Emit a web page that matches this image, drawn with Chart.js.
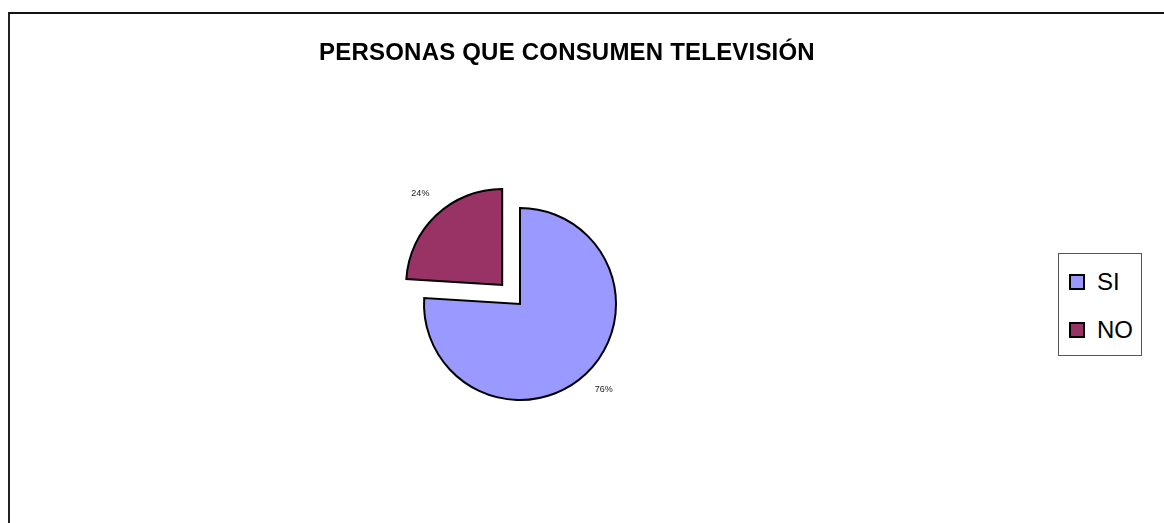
<!DOCTYPE html>
<html lang="es">
<head>
  <meta charset="UTF-8" />
  <title>Personas que consumen televisión</title>
  <script src="https://cdn.jsdelivr.net/npm/chart.js"></script>
  <style>
    html, body {
      margin: 0;
      width: 1164px;
      height: 523px;
      overflow: hidden;
      background: #fff;
      font-family: 'Liberation Sans', Arial, sans-serif;
    }

    .frame {
      position: absolute;
      left: 8px;
      top: 12px;
      width: 1200px;
      height: 600px;
      border-left: 2px solid #222;
      border-top: 2px solid #111;
    }

    .titulo {
      position: absolute;
      left: 0;
      top: 38px;
      width: 1134px;
      margin: 0;
      text-align: center;
      font-size: 24px;
      font-weight: bold;
      color: #000;
      letter-spacing: 0.2px;
    }

    #wrap {
      position: absolute;
      left: 0;
      top: 0;
      width: 1164px;
      height: 523px;
    }

    .legend {
      position: absolute;
      left: 1058px;
      top: 253px;
      width: 82px;
      height: 101px;
      border: 1px solid #555;
      background: #fff;
    }

    .legend-item {
      position: absolute;
      left: 10px;
      display: flex;
      align-items: center;
      font-size: 24px;
      color: #000;
    }

    .swatch {
      width: 12px;
      height: 12px;
      border: 2px solid #000;
      margin-right: 12px;
    }
  </style>
</head>
<body>
  <div class="frame"></div>
  <div id="wrap"><canvas id="tvChart"></canvas></div>
  <h1 class="titulo">PERSONAS QUE CONSUMEN TELEVISIÓN</h1>
  <div class="legend" id="legend"></div>

  <script>
    const categorias = ['SI', 'NO'];
    const porcentajes = [76, 24];
    const colores = ['#9999ff', '#993366'];
    const separacion = [0, 26]; // desplazamiento visible del sector, px

    // etiquetas de porcentaje fuera de cada sector
    const etiquetas = {
      id: 'etiquetas',
      afterDatasetsDraw(chart) {
        const ctx = chart.ctx;
        const meta = chart.getDatasetMeta(0);
        ctx.save();
        ctx.font = '9px "Liberation Sans", Arial, sans-serif';
        ctx.fillStyle = '#222';
        ctx.textAlign = 'center';
        ctx.textBaseline = 'middle';
        meta.data.forEach((arc, i) => {
          const p = arc.getProps(['x', 'y', 'startAngle', 'endAngle', 'outerRadius']);
          const mid = (p.startAngle + p.endAngle) / 2;
          const d = p.outerRadius + 25 + separacion[i];
          ctx.fillText(porcentajes[i] + '%', p.x + Math.cos(mid) * d + 1, p.y + Math.sin(mid) * d - 3);
        });
        ctx.restore();
      }
    };

    const ctx = document.getElementById('tvChart').getContext('2d');
    const tvChart = new Chart(ctx, {
      type: 'pie',
      data: {
        labels: categorias,
        datasets: [{
          data: porcentajes,
          backgroundColor: colores,
          borderColor: '#000',
          borderWidth: 2,
          // Chart.js traslada el sector offset/4
          offset: separacion.map(s => s * 4),
          borderJoinStyle: 'miter'
        }]
      },
      options: {
        responsive: true,
        maintainAspectRatio: false,
        animation: false,
        radius: 96,
        layout: {
          padding: { left: 0, right: 124, top: 85, bottom: 0 }
        },
        plugins: {
          legend: { display: false },
          title: { display: false },
          tooltip: { enabled: false }
        }
      },
      plugins: [etiquetas]
    });

    const legend = document.getElementById('legend');
    categorias.forEach((c, i) => {
      const item = document.createElement('div');
      item.className = 'legend-item';
      item.style.top = (14 + i * 48) + 'px';
      item.innerHTML = `<span class="swatch" style="background:${colores[i]}"></span>${c}`;
      legend.appendChild(item);
    });
  </script>
</body>
</html>
